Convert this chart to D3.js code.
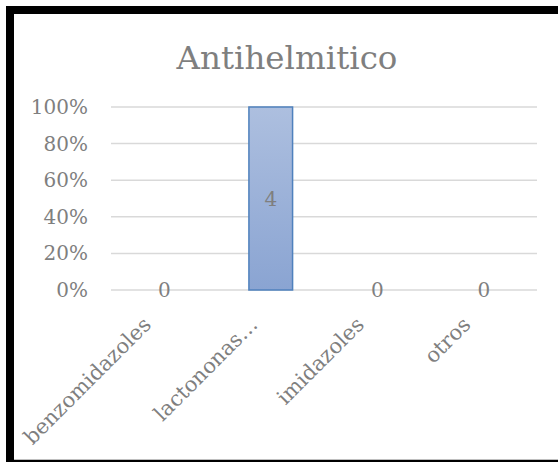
<!DOCTYPE html>
<html>
<head>
<meta charset="utf-8">
<script src="https://cdn.jsdelivr.net/npm/d3@7"></script>
<style>
  body { margin: 0; background: #fff; }
  text { font-family: "DejaVu Serif", serif; fill: #7f7f7f; }
</style>
</head>
<body>
<svg id="chart" width="558" height="462"></svg>
<script>
// chart data (100% stacked column, one series)
var categories = ["benzomidazoles", "lactononas…", "imidazoles", "otros"];
var counts = [0, 4, 0, 0];
var yTicks = [0, 0.2, 0.4, 0.6, 0.8, 1];
var title = "Antihelmitico";

var svg = d3.select("#chart");

var margin = {left: 111, right: 21, top: 107, bottom: 172};
var width = 558 - margin.left - margin.right,
  height = 462 - margin.top - margin.bottom;

// outer frame
svg.append("rect")
  .attr("x", 10).attr("y", 10)
  .attr("width", 560).attr("height", 454)
  .attr("fill", "#fff")
  .attr("stroke", "#000")
  .attr("stroke-width", 8);
svg.append("line")
  .attr("x1", 14).attr("x2", 558)
  .attr("y1", 459.5).attr("y2", 459.5)
  .attr("stroke", "#bfbfbf");

var defs = svg.append("defs");
var grad = defs.append("linearGradient")
  .attr("id", "barFill")
  .attr("x1", 0).attr("y1", 0).attr("x2", 0).attr("y2", 1);
grad.append("stop").attr("offset", "0%").attr("stop-color", "#adbfdf");
grad.append("stop").attr("offset", "100%").attr("stop-color", "#8aa4d2");

svg.append("text")
  .attr("x", 287).attr("y", 69)
  .attr("text-anchor", "middle")
  .style("font-size", "32.5px")
  .text(title);

var g = svg.append("g")
  .attr("transform", "translate(" + margin.left + "," + margin.top + ")");

var x = d3.scaleBand()
  .domain(categories)
  .range([0, width])
  .paddingInner(0.59)
  .paddingOuter(0.295);

var y = d3.scaleLinear()
  .domain([0, 1])
  .range([height, 0]);

// share of each category (only one series, so 100% when there is a value)
var shares = counts.map(function (d) { return d > 0 ? d / d : 0; });

// gridlines
g.selectAll(".grid")
  .data(yTicks)
  .enter()
  .append("line")
  .attr("class", "grid")
  .attr("x1", 0).attr("x2", width)
  .attr("y1", function (d) { return y(d); })
  .attr("y2", function (d) { return y(d); })
  .attr("stroke", "#d9d9d9")
  .attr("stroke-width", 1.5);

// y axis labels
var yAxis = g.append("g")
  .call(d3.axisLeft(y).tickValues(yTicks).tickFormat(d3.format(".0%")).tickSize(0).tickPadding(23));
yAxis.select(".domain").remove();
yAxis.selectAll("text")
  .style("font-size", "20px")
  .attr("fill", "#7f7f7f")
  .style("font-family", "DejaVu Serif, serif");

// bars
g.selectAll(".bar")
  .data(shares)
  .enter()
  .append("rect")
  .attr("class", "bar")
  .attr("x", function (d, i) { return x(categories[i]); })
  .attr("y", function (d) { return y(d); })
  .attr("width", x.bandwidth())
  .attr("height", function (d) { return height - y(d); })
  .attr("fill", "url(#barFill)")
  .attr("stroke", function (d) { return d > 0 ? "#4f81bd" : "none"; })
  .attr("stroke-width", 1.5);

// data labels (raw counts, centred in the bar)
g.selectAll(".label")
  .data(shares)
  .enter()
  .append("text")
  .attr("class", "label")
  .attr("x", function (d, i) { return x(categories[i]) + x.bandwidth() / 2; })
  .attr("y", function (d) { return (y(d) + y(0)) / 2; })
  .attr("dy", "0.35em")
  .attr("text-anchor", "middle")
  .style("font-size", "20px")
  .text(function (d, i) { return counts[i]; });

// rotated category labels
g.selectAll(".cat")
  .data(categories)
  .enter()
  .append("text")
  .attr("class", "cat")
  .attr("text-anchor", "end")
  .attr("transform", function (d) {
    var cx = x(d) + x.bandwidth() / 2 - 12;
    return "translate(" + cx + "," + (height + 36) + ") rotate(-45)";
  })
  .style("font-size", "21px")
  .text(function (d) { return d; });
</script>
</body>
</html>
